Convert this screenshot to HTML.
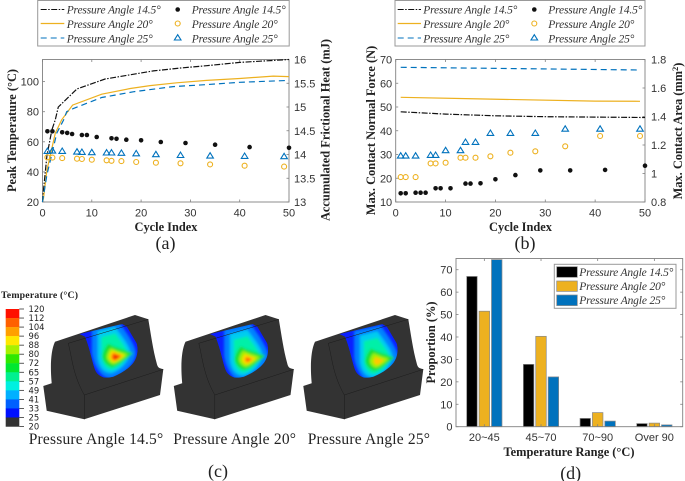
<!DOCTYPE html>
<html lang="en">
<head>
<meta charset="utf-8">
<title>Pressure angle thermal results</title>
<style>
html,body{margin:0;padding:0;background:#fff;width:685px;height:481px;overflow:hidden}
svg{display:block}
.tick{font:11px "Liberation Sans",sans-serif;fill:#333}
.lab{font:bold 12.4px "Liberation Serif",serif;fill:#222}
.leg{font:italic 11.5px "Liberation Serif",serif;fill:#333}
.cap{font:15.5px "Liberation Serif",serif;fill:#222}
.sub{font:18px "Liberation Serif",serif;fill:#222}
.cb{font:8.4px "DejaVu Sans",sans-serif;fill:#222}
</style>
</head>
<body>
<svg id="fig" xmlns="http://www.w3.org/2000/svg" width="685" height="481" viewBox="0 0 685 481">
<defs>
<filter id="soft" x="-30%" y="-30%" width="160%" height="160%"><feGaussianBlur stdDeviation="1.4"/></filter>
<path id="contourSky" d="M-22,-28 L2,-33 C10,-22 18,-10 18,-4 C18,6 6,16 -4,19 C-12,20 -20,10 -22,-4 Z"/>
<path id="contourCyan" d="M-17,-24 L-1,-28 C5,-20 13,-10 13,-5 C13,3 4,12 -4,14.500 C-12,15 -16,8 -17,0 Z"/>
<path id="contourGreen" d="M-7,-13 C-3,-10 12,-6 16,-4 C10,2 2,8 -4,9.500 C-9,8 -13,3 -13,-1 C-12,-6 -10,-10 -7,-13 Z"/>
</defs>

<!-- chart a -->
<g id="chartA"></g>
<g>
<rect x="37.7" y="0.5" width="251.500" height="45.500" fill="#fff" stroke="#999"/>
<line x1="40.700" x2="64.300" y1="9.500" y2="9.500" stroke="#111" stroke-width="1.100" stroke-dasharray="6 1.500 1.500 1.500"/>
<line x1="40.700" x2="64.300" y1="23.500" y2="23.500" stroke="#EDB120" stroke-width="1.200"/>
<line x1="40.700" x2="64.300" y1="38" y2="38" stroke="#0072BD" stroke-width="1.100" stroke-dasharray="6 4"/>
<text class="leg" x="66.700" y="13.500" textLength="94">Pressure Angle 14.5°</text>
<text class="leg" x="66.700" y="28" textLength="86">Pressure Angle 20°</text>
<text class="leg" x="66.700" y="42.500" textLength="86">Pressure Angle 25°</text>
<circle cx="177.700" cy="9.500" r="2.300" fill="#111"/>
<circle cx="177.700" cy="23.500" r="2.500" fill="none" stroke="#EDB120" stroke-width="1.100"/>
<path d="M177.700,34.700 L181,40 L174.400,40Z" fill="none" stroke="#0072BD" stroke-width="1.100"/>
<text class="leg" x="191.700" y="13.500" textLength="94">Pressure Angle 14.5°</text>
<text class="leg" x="191.700" y="28" textLength="86">Pressure Angle 20°</text>
<text class="leg" x="191.700" y="42.500" textLength="86">Pressure Angle 25°</text>
</g>
<text class="lab" x="166" y="231" text-anchor="middle">Cycle Index</text>
<text class="lab" transform="translate(16,130.500) rotate(-90)" text-anchor="middle">Peak Temperature (°C)</text>
<text class="lab" transform="translate(329.500,130) rotate(-90)" text-anchor="middle">Accumulated Frictional Heat (mJ)</text>
<text class="sub" x="165.500" y="249" text-anchor="middle">(a)</text>

<!-- chart b -->
<g id="chartB"></g>
<g>
<rect x="395" y="0.5" width="250" height="45.500" fill="#fff" stroke="#999"/>
<line x1="397.700" x2="421" y1="9.500" y2="9.500" stroke="#111" stroke-width="1.100" stroke-dasharray="6 1.500 1.500 1.500"/>
<line x1="397.700" x2="421" y1="23.500" y2="23.500" stroke="#EDB120" stroke-width="1.200"/>
<line x1="397.700" x2="421" y1="38" y2="38" stroke="#0072BD" stroke-width="1.100" stroke-dasharray="6 4"/>
<text class="leg" x="423.300" y="13.500" textLength="94">Pressure Angle 14.5°</text>
<text class="leg" x="423.300" y="28" textLength="86">Pressure Angle 20°</text>
<text class="leg" x="423.300" y="42.500" textLength="86">Pressure Angle 25°</text>
<circle cx="534.300" cy="9.500" r="2.300" fill="#111"/>
<circle cx="534.300" cy="23.500" r="2.500" fill="none" stroke="#EDB120" stroke-width="1.100"/>
<path d="M534.300,34.700 L537.600,40 L531,40Z" fill="none" stroke="#0072BD" stroke-width="1.100"/>
<text class="leg" x="548.300" y="13.500" textLength="94">Pressure Angle 14.5°</text>
<text class="leg" x="548.300" y="28" textLength="86">Pressure Angle 20°</text>
<text class="leg" x="548.300" y="42.500" textLength="86">Pressure Angle 25°</text>
</g>
<text class="lab" x="520.500" y="231" text-anchor="middle">Cycle Index</text>
<text class="lab" transform="translate(375,130.500) rotate(-90)" text-anchor="middle">Max. Contact Normal Force (N)</text>
<text class="lab" transform="translate(682,131) rotate(-90)" text-anchor="middle">Max. Contact Area (mm<tspan dy="-4" font-size="8.500">2</tspan><tspan dy="4">)</tspan></text>
<text class="sub" x="525" y="249" text-anchor="middle">(b)</text>

<!-- panel c -->
<text x="1" y="298" font-family="Liberation Serif" font-weight="bold" font-size="9.800" fill="#222" textLength="77">Temperature (°C)</text>
<g id="colorbar"></g>
<g id="blocks"></g>
<text class="cap" x="28.700" y="444" textLength="134.500">Pressure Angle 14.5°</text>
<text class="cap" x="173.300" y="444" textLength="122.700">Pressure Angle 20°</text>
<text class="cap" x="307.700" y="444" textLength="122.300">Pressure Angle 25°</text>
<text class="sub" x="218" y="477" text-anchor="middle">(c)</text>

<!-- chart d -->
<g id="chartD"></g>
<g>
<rect x="554.300" y="264.300" width="121.700" height="44" fill="#fff" stroke="#999"/>
<rect x="556.700" y="266.700" width="20.600" height="10.600" fill="#000" stroke="#888" stroke-width="0.700"/>
<rect x="556.700" y="281" width="20.600" height="10.400" fill="#EDB120" stroke="#888" stroke-width="0.700"/>
<rect x="556.700" y="295" width="20.600" height="10.600" fill="#0072BD" stroke="#888" stroke-width="0.700"/>
<text class="leg" x="579.300" y="276" textLength="94">Pressure Angle 14.5°</text>
<text class="leg" x="579.300" y="290" textLength="86">Pressure Angle 20°</text>
<text class="leg" x="579.300" y="304" textLength="86">Pressure Angle 25°</text>
</g>
<text class="lab" x="569" y="456" text-anchor="middle">Temperature Range (°C)</text>
<text class="lab" transform="translate(435,342.500) rotate(-90)" text-anchor="middle">Proportion (%)</text>
<text class="sub" x="570.700" y="479" text-anchor="middle">(d)</text>
</svg>

<script>
/* ---------- chart a data ---------- */
const cycleTicks = [0, 10, 20, 30, 40, 50];
const tempTicks = [20, 40, 60, 80, 100];
const heatTicks = [13, 13.5, 14, 14.5, 15, 15.5, 16];
const heatCycles14 = [0, 0.2, 0.9, 1.9, 2.6, 3.2, 7, 12.7, 22.5, 28, 33.3, 40, 50];
const heatValues14 = [13, 13.25, 13.97, 14.52, 14.73, 15.0, 15.38, 15.59, 15.76, 15.82, 15.87, 15.94, 16.0];
const heatCycles20 = [0, 0.2, 0.9, 2.6, 3.9, 6.1, 12, 17.8, 21.8, 27.2, 33.3, 40, 46.8, 50];
const heatValues20 = [13, 13.08, 13.67, 14.45, 14.73, 15.04, 15.27, 15.39, 15.45, 15.51, 15.56, 15.6, 15.65, 15.64];
const heatCycles25 = [0, 0.9, 2.9, 4.3, 4.9, 6.3, 12, 18.4, 26.5, 33, 40, 50];
const heatValues25 = [13, 13.57, 14.45, 14.73, 14.9, 14.97, 15.2, 15.32, 15.43, 15.47, 15.52, 15.56];
const peakCycles14 = [1, 2, 4, 5, 6, 8, 9, 11, 14, 15, 17, 20, 24, 29, 35, 42, 50];
const peakTemps14 = [67, 67, 66.3, 65.9, 65.2, 64.5, 64.5, 63.2, 62.3, 62, 61.4, 61, 59.9, 59.2, 58.1, 56.5, 56];
const peakCycles = [1, 2, 4, 7, 8, 10, 13, 14, 16, 19, 23, 28, 34, 41, 49];
const peakTemps20 = [49.7, 49.5, 49.2, 48.8, 48.6, 48.1, 47.7, 47.4, 47.2, 46.6, 46.1, 45.7, 45, 44.1, 43.5];
const peakTemps25 = [53.9, 54.1, 53.9, 53.4, 53.2, 53, 52.8, 52.8, 52.6, 52.3, 51.7, 51.2, 50.8, 50.6, 50.4];

/* ---------- chart b data ---------- */
const forceTicks = [10, 20, 30, 40, 50, 60, 70];
const areaTicks = [0.8, 1, 1.2, 1.4, 1.6, 1.8];
const forceCycles14 = [1, 10, 20, 30, 50];
const forceValues14 = [48, 47, 46.3, 45.9, 45.6];
const forceCycles20 = [1, 16.6, 40, 49];
const forceValues20 = [54.1, 53.4, 52.5, 52.4];
const forceCycles25 = [1, 49];
const forceValues25 = [66.7, 65.6];
const areaValues14 = [0.861, 0.861, 0.865, 0.865, 0.865, 0.896, 0.896, 0.896, 0.929, 0.929, 0.931, 0.959, 0.989, 1.022, 1.022, 1.025, 1.055];
const areaValues20 = [0.975, 0.975, 0.975, 1.071, 1.071, 1.076, 1.111, 1.111, 1.111, 1.121, 1.146, 1.156, 1.191, 1.263, 1.263];
const areaValues25 = [1.125, 1.125, 1.125, 1.13, 1.13, 1.163, 1.163, 1.221, 1.221, 1.284, 1.284, 1.284, 1.314, 1.314, 1.314];

/* ---------- chart d data ---------- */
const rangeLabels = ['20~45', '45~70', '70~90', 'Over 90'];
const proportionTicks = [0, 10, 20, 30, 40, 50, 60, 70];
const proportion14 = [67, 27.8, 3.7, 1.4];
const proportion20 = [51.5, 40.3, 6.3, 1.6];
const proportion25 = [74.5, 22.2, 2.5, 0.8];

/* ---------- colorbar data ---------- */
const colorbarLabels = ['120','112','104','96','88','80','72','65','57','49','41','33','25','20'];
const colorbarColors = ['#ff1000','#ff6000','#ffa000','#ffe800','#a8f000','#30e800','#00e830','#00f090','#00f0e0','#00b0ff','#0060ff','#0010ff','#333333'];

const NS = 'http://www.w3.org/2000/svg';
const BLACK = '#111', GOLD = '#EDB120', BLUE = '#0072BD', FRAME = '#808080';

function make(parent, tag, name) {
  const el = document.createElementNS(NS, tag);
  
  
  parent.appendChild(el);
  return el;
}
function linear(d0, d1, r0, r1) {
  return v => r0 + (v - d0) * (r1 - r0) / (d1 - d0);
}
function seg(parent, name, x1, y1, x2, y2, color) {
  const l = make(parent, 'line', name);
  l.setAttribute('x1', x1); l.setAttribute('y1', y1);
  l.setAttribute('x2', x2); l.setAttribute('y2', y2);
  l.setAttribute('stroke', color || FRAME);
  l.setAttribute('stroke-width', '0.8');
  return l;
}
function label(parent, name, x, y, str, anchor) {
  const t = make(parent, 'text', name);
  t.setAttribute('class', 'tick');
  t.setAttribute('x', x); t.setAttribute('y', y);
  t.setAttribute('text-anchor', anchor);
  t.textContent = str;
  return t;
}
function frame(parent, name, L, R, T, B) {
  const r = make(parent, 'rect', name);
  r.setAttribute('x', L); r.setAttribute('y', T);
  r.setAttribute('width', R - L); r.setAttribute('height', B - T);
  r.setAttribute('fill', 'none');
  r.setAttribute('stroke', FRAME);
  r.setAttribute('stroke-width', '0.9');
}
function curve(parent, name, xs, ys, sx, sy, color, dash) {
  const p = make(parent, 'polyline', name);
  p.setAttribute('points', xs.map((x, i) => sx(x).toFixed(1) + ',' + sy(ys[i]).toFixed(1)).join(' '));
  p.setAttribute('fill', 'none');
  p.setAttribute('stroke', color);
  p.setAttribute('stroke-width', '1.200');
  if (dash) p.setAttribute('stroke-dasharray', dash);
}
function dots(parent, name, xs, ys, sx, sy) {
  xs.forEach((x, i) => {
    const c = make(parent, 'circle', name);
    c.setAttribute('cx', sx(x).toFixed(1)); c.setAttribute('cy', sy(ys[i]).toFixed(1));
    c.setAttribute('r', '2.300'); c.setAttribute('fill', BLACK);
  });
}
function rings(parent, name, xs, ys, sx, sy) {
  xs.forEach((x, i) => {
    const c = make(parent, 'circle', name);
    c.setAttribute('cx', sx(x).toFixed(1)); c.setAttribute('cy', sy(ys[i]).toFixed(1));
    c.setAttribute('r', '2.500'); c.setAttribute('fill', 'none');
    c.setAttribute('stroke', GOLD); c.setAttribute('stroke-width', '1.100');
  });
}
function triangles(parent, name, xs, ys, sx, sy) {
  xs.forEach((x, i) => {
    const p = make(parent, 'path', name);
    const cx = sx(x), cy = sy(ys[i]);
    p.setAttribute('d', 'M' + cx.toFixed(1) + ',' + (cy - 3).toFixed(1) + 'l3.300,5.400l-6.600,0Z');
    p.setAttribute('fill', 'none');
    p.setAttribute('stroke', BLUE); p.setAttribute('stroke-width', '1.100');
  });
}
function xTicks(parent, sx, T, B) {
  cycleTicks.forEach(v => {
    seg(parent, 'x-tick', sx(v), B, sx(v), B - 2.500);
    seg(parent, 'x-tick-top', sx(v), T, sx(v), T + 2.500);
    label(parent, 'x-tick-label', sx(v), B + 14.700, String(v), 'middle');
  });
}
function yTicks(parent, ticks, sy, edge, dir, labelX, anchor, name) {
  ticks.forEach(v => {
    seg(parent, name, edge, sy(v), edge + dir * 2.500, sy(v));
    label(parent, name + '-label', labelX, sy(v) + 4, String(v), anchor);
  });
}

/* ---------- chart a ---------- */
(function () {
  const g = document.getElementById('chartA');
  const L = 42.5, R = 289, T = 59.5, B = 202;
  const sx = linear(0, 50, L, R);
  const sTemp = linear(20, 114.7, B, T);
  const sHeat = linear(13, 16, B, T);
  frame(g, 'plot-frame-a', L, R, T, B);
  xTicks(g, sx, T, B);
  yTicks(g, tempTicks, sTemp, L, 1, L - 3.500, 'end', 'y-tick-temperature');
  yTicks(g, heatTicks, sHeat, R, -1, R + 5, 'start', 'y-tick-heat');
  curve(g, 'heat-line-14', heatCycles14, heatValues14, sx, sHeat, BLACK, '6 1.500 1.500 1.500');
  curve(g, 'heat-line-20', heatCycles20, heatValues20, sx, sHeat, GOLD);
  curve(g, 'heat-line-25', heatCycles25, heatValues25, sx, sHeat, BLUE, '6 4');
  dots(g, 'peak-point-14', peakCycles14, peakTemps14, sx, sTemp);
  rings(g, 'peak-point-20', peakCycles, peakTemps20, sx, sTemp);
  triangles(g, 'peak-point-25', peakCycles, peakTemps25, sx, sTemp);
})();

/* ---------- chart b ---------- */
(function () {
  const g = document.getElementById('chartB');
  const L = 395.7, R = 645, T = 59.5, B = 202;
  const sx = linear(0, 50, L, R);
  const sForce = linear(10, 70, B, T);
  const sArea = linear(0.8, 1.8, B, T);
  frame(g, 'plot-frame-b', L, R, T, B);
  xTicks(g, sx, T, B);
  yTicks(g, forceTicks, sForce, L, 1, L - 3.500, 'end', 'y-tick-force');
  yTicks(g, areaTicks, sArea, R, -1, R + 6, 'start', 'y-tick-area');
  curve(g, 'force-line-14', forceCycles14, forceValues14, sx, sForce, BLACK, '6 1.500 1.500 1.500');
  curve(g, 'force-line-20', forceCycles20, forceValues20, sx, sForce, GOLD);
  curve(g, 'force-line-25', forceCycles25, forceValues25, sx, sForce, BLUE, '6 4');
  dots(g, 'area-point-14', peakCycles14, areaValues14, sx, sArea);
  rings(g, 'area-point-20', peakCycles, areaValues20, sx, sArea);
  triangles(g, 'area-point-25', peakCycles, areaValues25, sx, sArea);
})();

/* ---------- chart d ---------- */
(function () {
  const g = document.getElementById('chartD');
  const L = 456, R = 682.7, T = 258.5, B = 426.7;
  const sx = linear(0.5, 4.5, L, R);
  const sy = linear(0, 75, B, T);
  const groups = [proportion14, proportion20, proportion25];
  const fills = ['#000000', GOLD, BLUE];
  groups.forEach((vals, j) => {
    vals.forEach((v, i) => {
      const r = make(g, 'rect', 'bar-' + rangeLabels[i].replace(/[~ ]/g, '-') + '-series-' + (j + 1));
      r.setAttribute('x', (sx(i + 1) + (j - 1) * 12.400 - 5.250).toFixed(2));
      r.setAttribute('y', sy(v).toFixed(2));
      r.setAttribute('width', '10.500');
      r.setAttribute('height', (B - sy(v)).toFixed(2));
      r.setAttribute('fill', fills[j]);
      r.setAttribute('stroke', '#888');
      r.setAttribute('stroke-width', '0.7');
    });
  });
  frame(g, 'plot-frame-d', L, R, T, B);
  rangeLabels.forEach((c, i) => {
    seg(g, 'x-tick', sx(i + 1), B, sx(i + 1), B - 2.500);
    seg(g, 'x-tick-top', sx(i + 1), T, sx(i + 1), T + 2.500);
    label(g, 'x-tick-label', sx(i + 1), B + 14.500, c, 'middle');
  });
  yTicks(g, proportionTicks, sy, L, 1, L - 3.500, 'end', 'y-tick-proportion');
  proportionTicks.forEach(v => seg(g, 'y-tick-right', R, sy(v), R - 2.500, sy(v)));
})();

/* ---------- colorbar ---------- */
(function () {
  const g = document.getElementById('colorbar');
  const top = 309, step = 9.040;
  colorbarColors.forEach((c, i) => {
    const r = make(g, 'rect', 'colorbar-band');
    r.setAttribute('x', '5.700');
    r.setAttribute('y', (top + i * step).toFixed(2));
    r.setAttribute('width', '13.600');
    r.setAttribute('height', step + 0.2);
    r.setAttribute('fill', c);
  });
  colorbarLabels.forEach((s, i) => {
    const y = top + i * step;
    seg(g, 'colorbar-tick', 19.300, y, 24, y, '#333');
    const t = make(g, 'text', 'colorbar-label');
    t.setAttribute('class', 'cb');
    t.setAttribute('x', '28.500');
    t.setAttribute('y', (y + 3).toFixed(1));
    t.textContent = s;
  });
})();

/* ---------- thermal blocks ---------- */
(function () {
  const host = document.getElementById('blocks');
  const outline = 'M43.300,386 L51.700,383.300 C50,365 51,350 55,341.700 L135,315 L148.300,319.300 C151,335 153,350 156.700,363.300 C158,369 160,368 163.300,369.300 L160,395 L84.300,419.300 L46.700,410.700 Z';
  const heat = 'M79.300,334 L122.300,324 L127,326.700 L136.700,343.300 C138.500,349 138,358 132,364.500 C127,370 120,374 113.300,376.700 C108,378 104,378 101.700,376.700 C97,374.500 96,372 95,370 C92,362 90.500,351 85,336.700 Z';
  const ridge = 'M68.300,343.300 C72,358 73,375 84.300,395 M84.300,395 L163.300,369.300 M84.300,395 L84.300,419.300 M68.300,343.300 L148.300,319.300';
  const placements = [[0, 0], [130.500, 0], [260, 0]];
  const hot = [[116, 357.300], [248.300, 360], [378.300, 361.500]];
  const contours = [
    [['contourSky', 1.100, '#0080ff'], ['contourCyan', 1.080, '#00ccf0'], ['contourCyan', 0.850, '#00f0a8'], ['contourGreen', 1.050, '#18e030'], ['contourGreen', 0.720, '#a0f000'], ['contourGreen', 0.520, '#ffd800'], ['contourGreen', 0.360, '#ff7000'], ['contourGreen', 0.200, '#f02000']],
    [['contourSky', 1.100, '#0080ff'], ['contourCyan', 1.080, '#00ccf0'], ['contourCyan', 0.850, '#00f0a8'], ['contourGreen', 1.050, '#18e030'], ['contourGreen', 0.720, '#a0f000'], ['contourGreen', 0.470, '#ffd800'], ['contourGreen', 0.240, '#ff7000']],
    [['contourSky', 1.100, '#0080ff'], ['contourCyan', 1.080, '#00ccf0'], ['contourCyan', 0.850, '#00f0a8'], ['contourGreen', 1, '#18e030'], ['contourGreen', 0.650, '#a0f000'], ['contourGreen', 0.370, '#ffc800']]
  ];
  placements.forEach((pos, b) => {
    const g = make(host, 'g', 'gear-tooth-block-' + (b + 1));
    g.setAttribute('transform', 'translate(' + pos[0] + ',' + pos[1] + ')');
    const body = make(g, 'path', 'tooth-body');
    body.setAttribute('d', outline);
    body.setAttribute('fill', '#333');

    const clip = document.createElementNS(NS, 'clipPath');
    clip.setAttribute('id', 'heatClip' + b);
    const cp = document.createElementNS(NS, 'path');
    cp.setAttribute('d', heat);
    clip.appendChild(cp);
    g.appendChild(clip);

    const zone = make(g, 'g', 'temperature-contact-zone');
    zone.setAttribute('clip-path', 'url(#heatClip' + b + ')');
    const base = make(zone, 'path', 'contact-zone-base');
    base.setAttribute('d', heat);
    base.setAttribute('fill', '#0a20ff');
    const layers = make(zone, 'g', 'temperature-contours');
    layers.setAttribute('filter', 'url(#soft)');
    const hx = hot[b][0] - pos[0], hy = hot[b][1];
    contours[b].forEach(c => {
      const u = make(layers, 'use', 'temperature-contour');
      u.setAttribute('href', '#' + c[0]);
      u.setAttribute('transform', 'translate(' + hx + ',' + hy + ') scale(' + c[1] + ')');
      u.setAttribute('fill', c[2]);
    });
    const edges = make(g, 'path', 'tooth-edges');
    edges.setAttribute('d', ridge);
    edges.setAttribute('fill', 'none');
    edges.setAttribute('stroke', '#1c1c1c');
    edges.setAttribute('stroke-width', '0.5');
  });
})();
</script>
</body>
</html>
